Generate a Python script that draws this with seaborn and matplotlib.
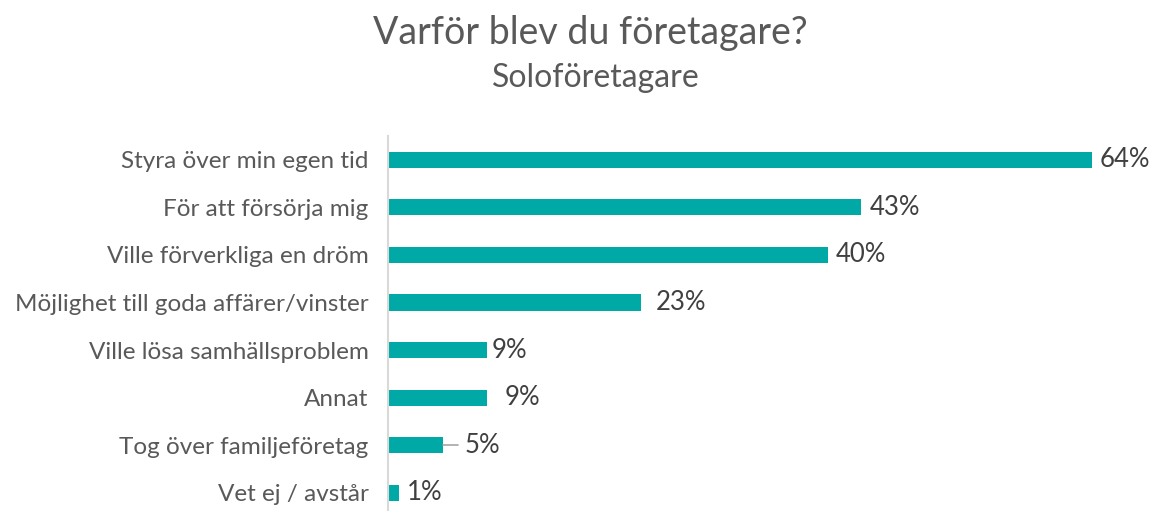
import matplotlib
matplotlib.use('Agg')
import matplotlib.pyplot as plt
import seaborn as sns
import pandas as pd

# Data
reasons = ['Styra över min egen tid', 'För att försörja mig', 'Ville förverkliga en dröm',
           'Möjlighet till goda affärer/vinster', 'Ville lösa samhällsproblem', 'Annat',
           'Tog över familjeföretag', 'Vet ej / avstår']
shares = [64, 43, 40, 23, 9, 9, 5, 1]

# label gap after each bar end (pixels), as placed in the original
label_gap = [8, 9, 8, 15, 5, 18, 22, 8]

teal = '#00A9A5'
grey = '#595959'

sns.set_style('white')
plt.rcParams['font.family'] = ['Lato', 'DejaVu Sans']

df = pd.DataFrame({'reason': reasons, 'share': shares})

fig = plt.figure(figsize=(11.55, 5.11), dpi=100)
ax = fig.add_axes([388 / 1155, 0, 748 / 1155, 375 / 511])

sns.barplot(data=df, x='share', y='reason', color=teal, width=0.34, ax=ax,
            saturation=1, edgecolor='none')

ax.set_xlim(0, 68)
ax.set_ylim(7.38, -0.5)
ax.set_xlabel('')
ax.set_ylabel('')
ax.set_xticks([])
for s in ['top', 'right', 'bottom']:
    ax.spines[s].set_visible(False)
ax.spines['left'].set_color('#d9d9d9')
ax.spines['left'].set_linewidth(1.5)

ax.tick_params(axis='y', length=0, pad=14)
for lab in ax.get_yticklabels():
    lab.set_fontsize(17.5)
    lab.set_color(grey)

px = 68 / 748  # data units per pixel
for i, (v, g) in enumerate(zip(shares, label_gap)):
    ax.text(v + g * px, i, f'{v}%', va='center', ha='left', fontsize=18.5, color='#404040')

# leader line for the 5% label
i5 = reasons.index('Tog över familjeföretag')
ax.plot([shares[i5], shares[i5] + 15 * px], [i5, i5], color='#a6a6a6', lw=1.2)

fig.text(0.511, 0.935, 'Varför blev du företagare?', ha='center', va='center',
         fontsize=27, color=grey)
fig.text(0.516, 0.848, 'Soloföretagare', ha='center', va='center',
         fontsize=23, color=grey)

fig.savefig('out.png', dpi=100)
